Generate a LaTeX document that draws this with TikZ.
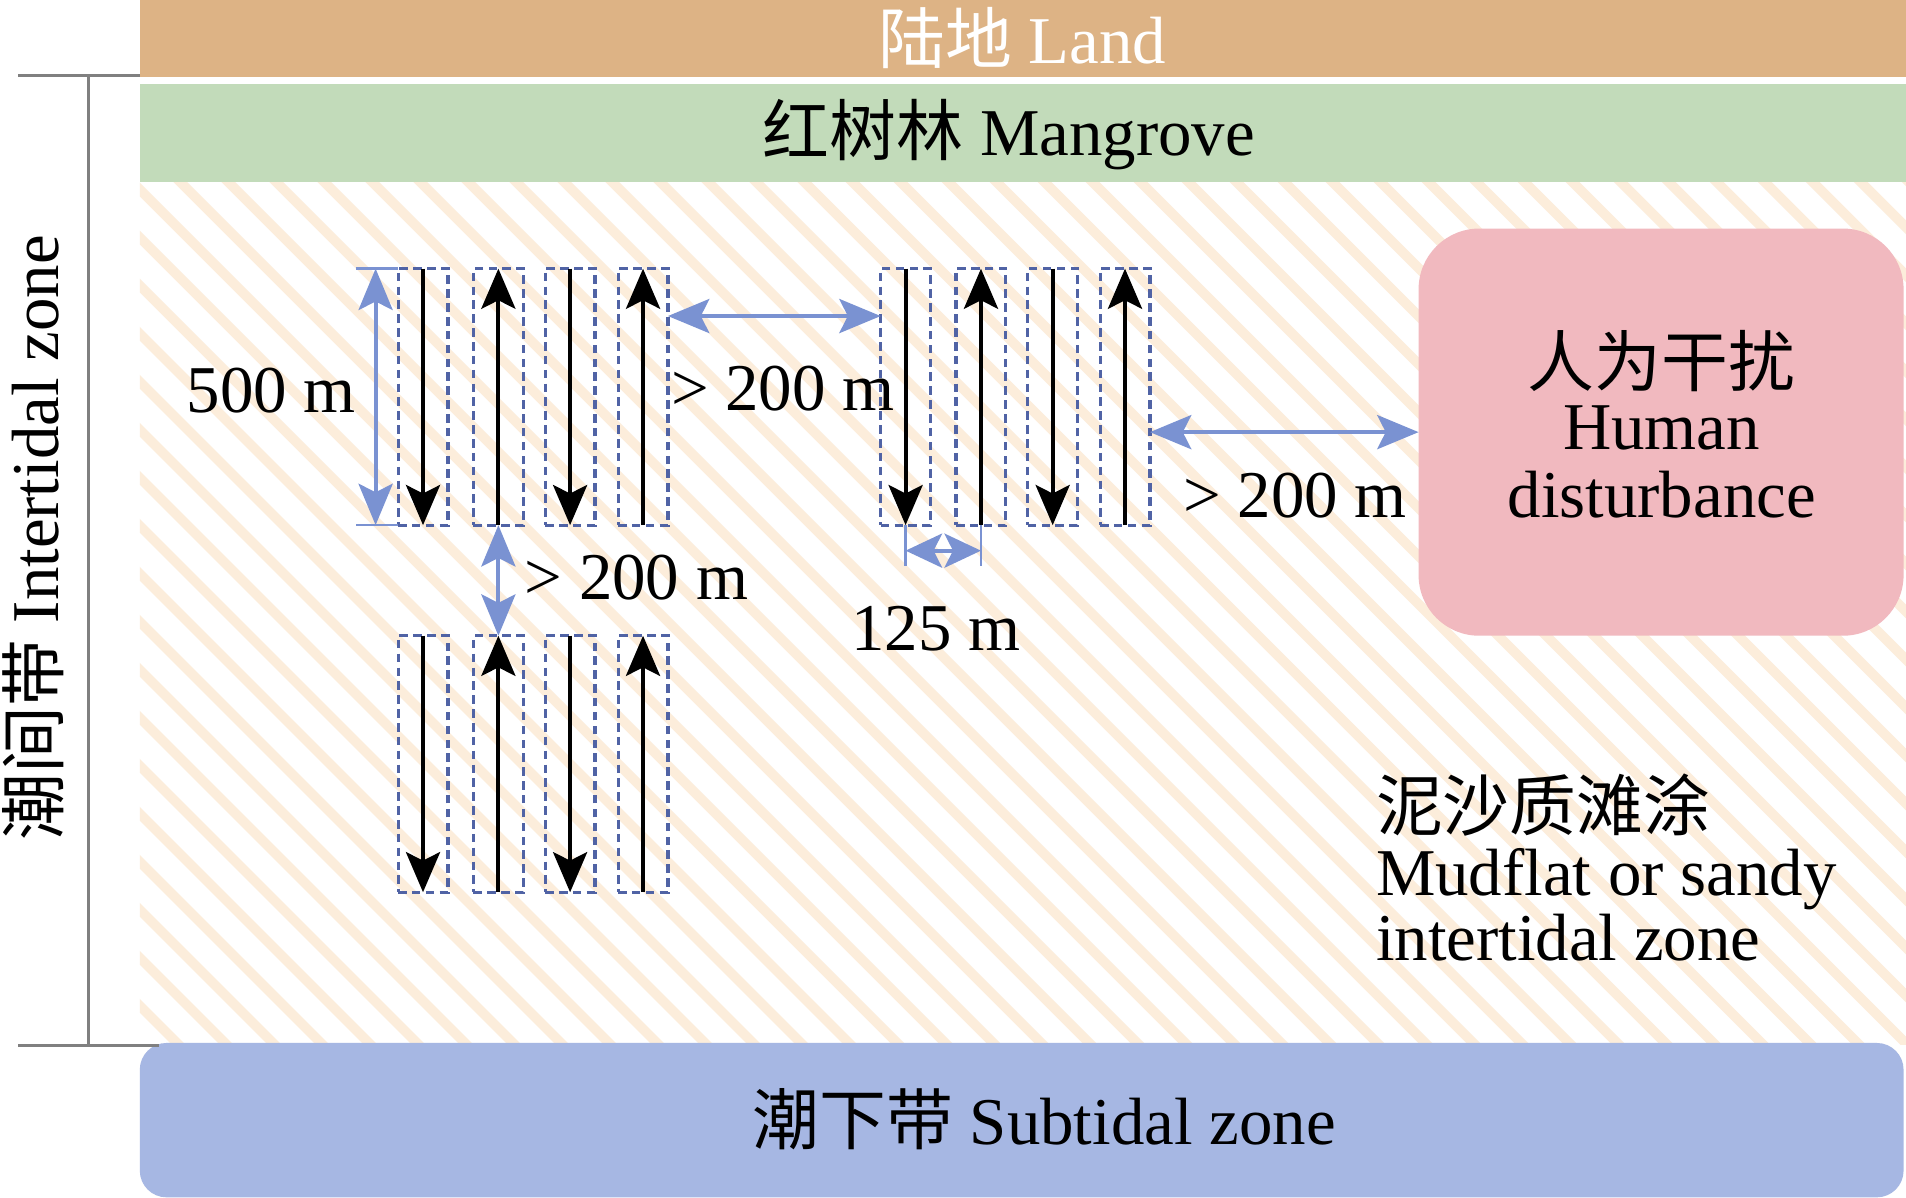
\documentclass[tikz,border=0pt]{standalone}
\usepackage{fontspec}
\setmainfont{Liberation Serif}
\newfontfamily\cjk{Noto Sans CJK SC}
\usetikzlibrary{arrows.meta}
\definecolor{landc}{HTML}{DDB385}
\definecolor{mangc}{HTML}{C2DBBA}
\definecolor{stripec}{HTML}{FCEDDB}
\definecolor{subc}{HTML}{A6B7E3}
\definecolor{humc}{HTML}{F1B9BF}
\definecolor{dimc}{HTML}{7A92D2}
\definecolor{boxc}{HTML}{5063A5}
\definecolor{brkc}{HTML}{808080}
\begin{document}
\begin{tikzpicture}[x=0.5pt,y=-0.5pt,
  every node/.style={inner sep=0pt, outer sep=0pt},
  lbl/.style={font=\fontsize{27.5pt}{27.5pt}\selectfont},
  transect/.style={draw=boxc, line width=1.3pt, dash pattern=on 3.5pt off 2.2pt,
    minimum width=20.5pt, minimum height=105.5pt},
  flow/.style={line width=1.7pt, -{Stealth[length=16.5pt,width=14pt,inset=3.5pt]}},
  dim/.style={draw=dimc, line width=1.7pt,
    {Stealth[length=17pt,width=14pt,inset=3.5pt]}-{Stealth[length=17pt,width=14pt,inset=3.5pt]}},
  dimsmall/.style={draw=dimc, line width=1.7pt,
    {Stealth[length=15pt,width=14pt,inset=3.5pt]}-{Stealth[length=15pt,width=14pt,inset=3.5pt]}},
  dimtick/.style={draw=dimc, line width=1pt},
  brk/.style={draw=brkc, line width=1.1pt}]
\useasboundingbox (0,0) rectangle (1568,985);
\fill[white] (0,0) rectangle (1568,985);
% hatched intertidal area
\begin{scope}
  \clip (115,150) rectangle (1568,859);
  \foreach \c in {-752,-712.5,...,1440}{
    \draw[stripec, line width=4pt] ({\c+140},140) -- ({\c+870},870);
  }
\end{scope}
% bands
\fill[landc] (115,0) rectangle (1568,63);
\fill[mangc] (115,69) rectangle (1568,150);
\node[fill=subc, rounded corners=11pt, minimum width=725.5pt, minimum height=63.5pt] (sub) at (840.5,921.5) {};
\node[fill=humc, rounded corners=25pt, minimum width=199.5pt, minimum height=167.5pt] (hum) at (1366.5,355.5) {};
% texts
\node[lbl, text=white] (landt) at (841,31.5) {{\cjk 陆地} Land};
\node[lbl] (mangt) at (830,111) {{\cjk 红树林} Mangrove};
\node[lbl] (subt) at (859,921) {{\cjk 潮下带} Subtidal zone};
\node[lbl, rotate=90] (intt) at (27,442.5) {{\cjk 潮间带} Intertidal zone};
\node[lbl] (hum1) at (1367,297) {\cjk 人为干扰};
\node[lbl] (hum2) at (1367,352) {Human};
\node[lbl] (hum3) at (1367,407) {disturbance};
\node[lbl, anchor=west] (mud1) at (1132,662) {\cjk 泥沙质滩涂};
\node[lbl, anchor=west] (mud2) at (1132,723) {Mudflat or sandy};
\node[lbl, anchor=west] (mud3) at (1132,771) {intertidal zone};
% bracket
\draw[brk] (15,62) -- (115,62);
\draw[brk] (73,62) -- (73,860);
\draw[brk] (15,860) -- (131,860);
% transects
\foreach \n/\x in {1/348,2/410,3/469,4/529}{
  \node[transect] (a\n) at (\x,326.5) {};
  \node[transect] (c\n) at (\x,628.5) {};
}
\foreach \n/\x in {1/745,2/807,3/866,4/925.5}{
  \node[transect] (b\n) at (\x,326.5) {};
}
\foreach \g in {a,b,c}{
  \draw[flow] (\g1.north) -- (\g1.south);
  \draw[flow] (\g2.south) -- (\g2.north);
  \draw[flow] (\g3.north) -- (\g3.south);
  \draw[flow] (\g4.south) -- (\g4.north);
}
% dimensions
\coordinate (v500) at (309,0);
\coordinate (t500) at (293,0);
\draw[dimtick] (t500 |- a1.north) -- (a1.north west);
\draw[dimtick] (t500 |- a1.south) -- (a1.south west);
\draw[dim] (v500 |- a1.north) -- (v500 |- a1.south);
\node[lbl] (l500) at (223,321) {500 m};
\coordinate (h1) at (0,260);
\draw[dim] (a4.east |- h1) -- (b1.west |- h1);
\node[lbl] (l200a) at (644,320) {> 200 m};
\draw[dim] (a2.south) -- (c2.north);
\node[lbl] (l200b) at (523.5,475) {> 200 m};
\draw[dim] (b4.east |- hum.west) -- (hum.west);
\node[lbl] (l200c) at (1065.5,408) {> 200 m};
\coordinate (t125) at (0,466);
\coordinate (h125) at (0,453);
\draw[dimtick] (b1.south) -- (b1.south |- t125);
\draw[dimtick] (b2.south) -- (b2.south |- t125);
\draw[dimsmall] (b1.south |- h125) -- (b2.south |- h125);
\node[lbl] (l125) at (770,517) {125 m};
\end{tikzpicture}
\end{document}
